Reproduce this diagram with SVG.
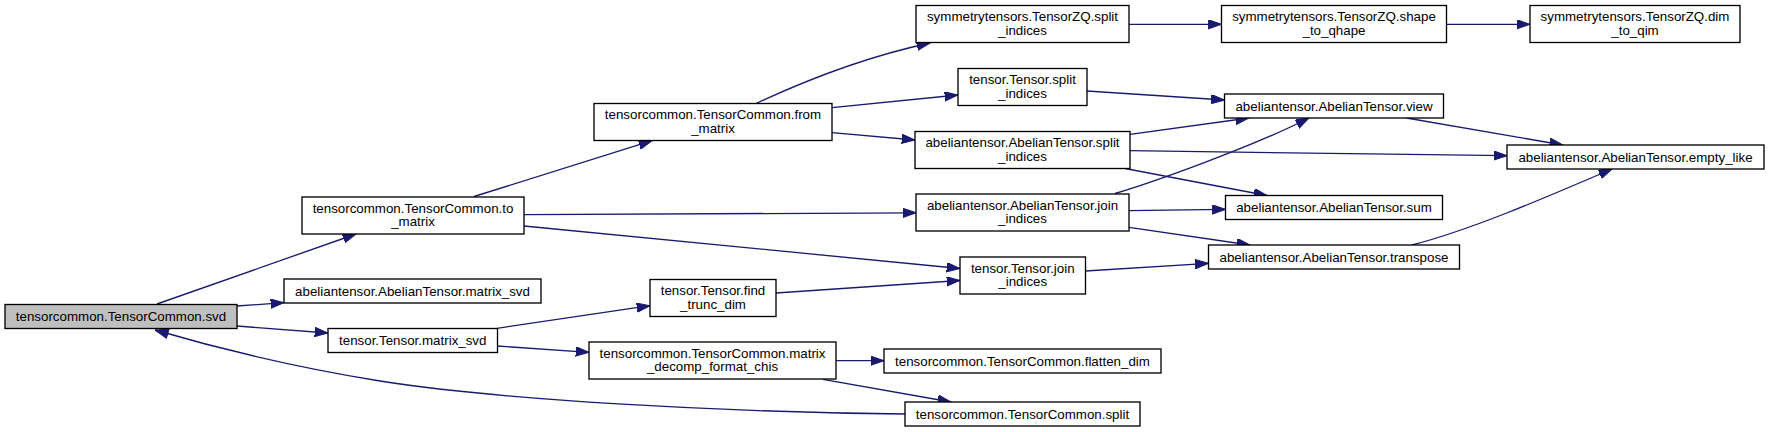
<svg xmlns="http://www.w3.org/2000/svg" width="1768" height="432" viewBox="0 0 1768 432">
<defs>
<marker id="ah" markerUnits="userSpaceOnUse" markerWidth="14" markerHeight="10" refX="13.3" refY="4.67" orient="auto">
<path d="M0,0 L13.3,4.67 L0,9.33 z" fill="#191970" stroke="#191970" stroke-width="1"/>
</marker>
<marker id="ahs" markerUnits="userSpaceOnUse" markerWidth="14" markerHeight="10" refX="0" refY="4.67" orient="auto">
<path d="M13.3,0 L0,4.67 L13.3,9.33 z" fill="#191970" stroke="#191970" stroke-width="1"/>
</marker>
</defs>
<style>
rect{fill:#ffffff;stroke:#000000;stroke-width:1.33}
.root rect{fill:#bfbfbf}
text{font-family:"Liberation Sans",Arial,Helvetica,sans-serif;font-size:13.33px;fill:#000000;text-anchor:middle}
#edges path{fill:none;stroke:#191970;stroke-width:1.33;marker-end:url(#ah)}
#edges path.rev{marker-end:none;marker-start:url(#ahs)}
</style>
<rect x="0" y="0" width="1768" height="432" style="fill:#ffffff;stroke:none"/>
<g id="edges">
<path d="M157,304 L356,234"/>
<path d="M237,306 L284,302.7"/>
<path d="M237,326 L328,333"/>
<path class="rev" d="M155,330 C230,352 300,368 380,381 C500,400 720,412 905,414"/>
<path d="M474,196.5 L652,140.7"/>
<path d="M524,214.7 L916,212.8"/>
<path d="M524,226 L960,268.5"/>
<path d="M497,328.3 L650,305.7"/>
<path d="M497.5,346 L589,352.3"/>
<path d="M756,103.5 C800,83 860,58 930,43"/>
<path d="M832,107.7 L958,95"/>
<path d="M832,132.7 L915,140"/>
<path d="M776,293 L960,280.5"/>
<path d="M836,360.7 L884,360.7"/>
<path d="M823,379.3 L951,402"/>
<path d="M1129,24.3 L1221.5,24.3"/>
<path d="M1446.5,24.3 L1530,24.3"/>
<path d="M1087,91 L1224.5,100"/>
<path d="M1130,134.3 L1249,118"/>
<path d="M1130,150.7 L1507,155.7"/>
<path d="M1125,168.5 L1267,195.5"/>
<path d="M1115,193.5 C1150,183 1250,148 1309,118"/>
<path d="M1129,210.7 L1225.5,209.3"/>
<path d="M1129,227.3 L1250,245"/>
<path d="M1085.5,271 L1208.5,263.3"/>
<path d="M1406.5,118 L1562.8,145"/>
<path d="M1412,245 C1470,230 1540,200 1612,169"/>
</g>
<g id="n_svd" class="root"><rect x="5" y="304.5" width="232" height="24"/><text x="121" y="321">tensorcommon.TensorCommon.svd</text></g>
<g id="n_to_matrix"><rect x="302" y="197" width="222" height="37"/><text x="413" y="212.7">tensorcommon.TensorCommon.to</text><text x="413" y="226.2">_matrix</text></g>
<g id="n_ab_matrix_svd"><rect x="284" y="279" width="257" height="24"/><text x="412.5" y="295.5">abeliantensor.AbelianTensor.matrix_svd</text></g>
<g id="n_t_matrix_svd"><rect x="328" y="328.5" width="169.5" height="24"/><text x="412.75" y="345">tensor.Tensor.matrix_svd</text></g>
<g id="n_from_matrix"><rect x="594" y="103.5" width="238" height="37"/><text x="713" y="119.2">tensorcommon.TensorCommon.from</text><text x="713" y="132.7">_matrix</text></g>
<g id="n_find_trunc"><rect x="650" y="279.5" width="126" height="37"/><text x="713" y="295.2">tensor.Tensor.find</text><text x="713" y="308.7">_trunc_dim</text></g>
<g id="n_decomp"><rect x="589" y="342" width="247" height="37"/><text x="712.5" y="357.7">tensorcommon.TensorCommon.matrix</text><text x="712.5" y="371.2">_decomp_format_chis</text></g>
<g id="n_zq_split"><rect x="916" y="5.5" width="213" height="37"/><text x="1022.5" y="21.2">symmetrytensors.TensorZQ.split</text><text x="1022.5" y="34.7">_indices</text></g>
<g id="n_t_split"><rect x="958" y="68.5" width="129" height="37"/><text x="1022.5" y="84.2">tensor.Tensor.split</text><text x="1022.5" y="97.7">_indices</text></g>
<g id="n_ab_split"><rect x="915" y="131.5" width="215" height="37"/><text x="1022.5" y="147.2">abeliantensor.AbelianTensor.split</text><text x="1022.5" y="160.7">_indices</text></g>
<g id="n_ab_join"><rect x="916" y="194" width="213" height="37"/><text x="1022.5" y="209.7">abeliantensor.AbelianTensor.join</text><text x="1022.5" y="223.2">_indices</text></g>
<g id="n_t_join"><rect x="960" y="257" width="125.5" height="37"/><text x="1022.75" y="272.7">tensor.Tensor.join</text><text x="1022.75" y="286.2">_indices</text></g>
<g id="n_flatten"><rect x="884" y="349" width="277" height="24"/><text x="1022.5" y="365.5">tensorcommon.TensorCommon.flatten_dim</text></g>
<g id="n_split"><rect x="905" y="402" width="235" height="24"/><text x="1022.5" y="418.5">tensorcommon.TensorCommon.split</text></g>
<g id="n_shape"><rect x="1221.5" y="5.5" width="225" height="37"/><text x="1334" y="21.2">symmetrytensors.TensorZQ.shape</text><text x="1334" y="34.7">_to_qhape</text></g>
<g id="n_dim"><rect x="1530" y="5.5" width="210" height="37"/><text x="1635" y="21.2">symmetrytensors.TensorZQ.dim</text><text x="1635" y="34.7">_to_qim</text></g>
<g id="n_view"><rect x="1224.5" y="94" width="219" height="24"/><text x="1334" y="110.5">abeliantensor.AbelianTensor.view</text></g>
<g id="n_sum"><rect x="1225.5" y="195.5" width="217" height="24"/><text x="1334" y="212">abeliantensor.AbelianTensor.sum</text></g>
<g id="n_transpose"><rect x="1208.5" y="245" width="251" height="24"/><text x="1334" y="261.5">abeliantensor.AbelianTensor.transpose</text></g>
<g id="n_empty_like"><rect x="1507" y="145" width="257" height="24"/><text x="1635.5" y="161.5">abeliantensor.AbelianTensor.empty_like</text></g>
</svg>
